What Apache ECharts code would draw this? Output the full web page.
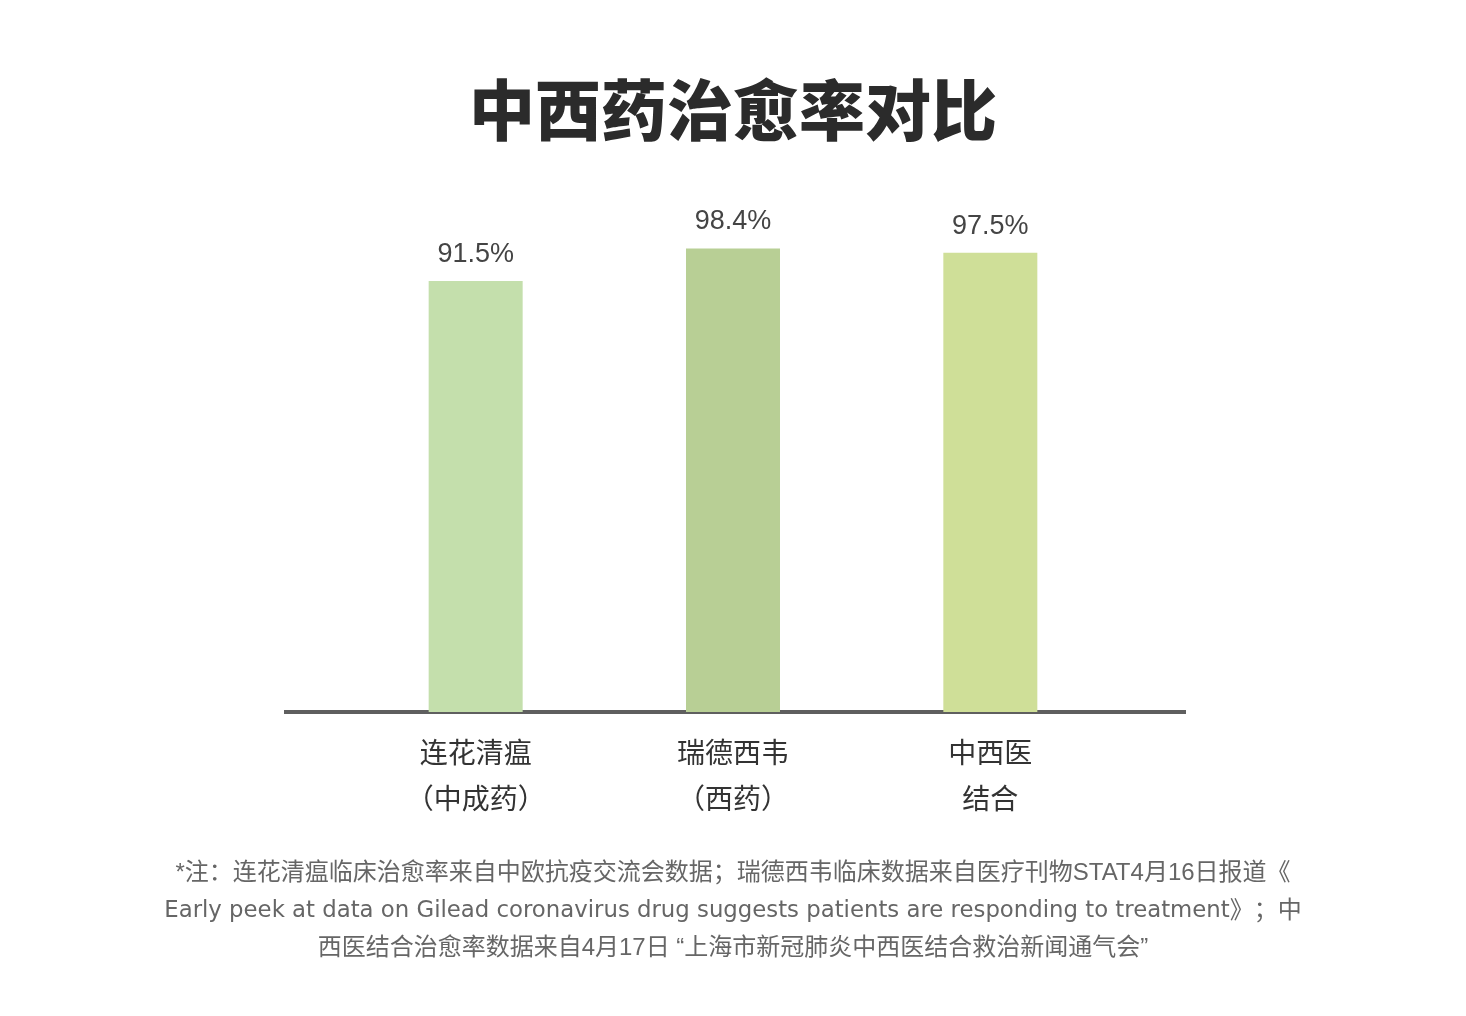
<!DOCTYPE html>
<html>
<head>
<meta charset="utf-8">
<script src="https://cdn.jsdelivr.net/npm/echarts@6/dist/echarts.min.js"></script>
<style>
html,body{margin:0;padding:0;background:#fff;}
#main{width:1466px;height:1016px;}
</style>
</head>
<body>
<div id="main"></div>
<script>
var categories = ['连花清瘟\n（中成药）', '瑞德西韦\n（西药）', '中西医\n结合'];
var values = [91.5, 98.4, 97.5];
var barColors = ['#c4dfac', '#b8cf95', '#cfdf98'];
var titleText = '中西药治愈率对比';
var noteLine1 = '*注：连花清瘟临床治愈率来自中欧抗疫交流会数据；瑞德西韦临床数据来自医疗刊物STAT4月16日报道《';
var noteLine2En = 'Early peek at data on Gilead coronavirus drug suggests patients are responding to treatment';
var noteLine2Zh = '》；中';
var noteLine3 = '西医结合治愈率数据来自4月17日 “上海市新冠肺炎中西医结合救治新闻通气会”';

var chart = echarts.init(document.getElementById('main'));
chart.setOption({
  backgroundColor: '#fff',
  animation: false,
  title: [{
    text: titleText,
    left: 'center',
    top: 72,
    textStyle: {fontSize: 66, fontWeight: 900, color: '#2b2b2b', fontFamily: 'Noto Sans CJK SC'}
  }],
  grid: {left: 347, right: 347, top: 241, bottom: 304},
  xAxis: {
    type: 'category',
    data: categories,
    axisLine: {show: false},
    axisTick: {show: false},
    axisLabel: {
      margin: 17,
      fontSize: 28,
      lineHeight: 46,
      color: '#333',
      fontFamily: 'Noto Sans CJK SC'
    }
  },
  yAxis: {
    type: 'value',
    min: 0,
    max: 100,
    show: false,
    splitLine: {show: false}
  },
  series: [{
    type: 'bar',
    data: values.map(function (v, i) { return {value: v, itemStyle: {color: barColors[i]}}; }),
    barWidth: 94,
    label: {
      show: true,
      position: 'top',
      distance: 13,
      formatter: '{c}%',
      fontSize: 27,
      color: '#444',
      fontFamily: 'Liberation Sans, Arial, sans-serif'
    }
  }],
  graphic: [{
    type: 'line',
    shape: {x1: 284, y1: 712, x2: 1186, y2: 712},
    style: {stroke: '#5f5f5f', lineWidth: 4}
  }, {
    type: 'text',
    x: 733,
    y: 855,
    style: {
      text: '{a|' + noteLine1 + '}\n{en|' + noteLine2En + '}{a|' + noteLine2Zh + '}\n{a|' + noteLine3 + '}',
      align: 'center',
      verticalAlign: 'top',
      fontSize: 24,
      lineHeight: 37.5,
      fill: '#666',
      fontFamily: 'Liberation Sans, Noto Sans CJK SC',
      rich: {
        a: {fontSize: 24, lineHeight: 37.5, fill: '#666', color: '#666', fontFamily: 'Liberation Sans, Noto Sans CJK SC'},
        en: {fontSize: 22.8, lineHeight: 37.5, fill: '#666', color: '#666', fontFamily: 'DejaVu Sans'}
      }
    }
  }]
});
</script>
</body>
</html>
